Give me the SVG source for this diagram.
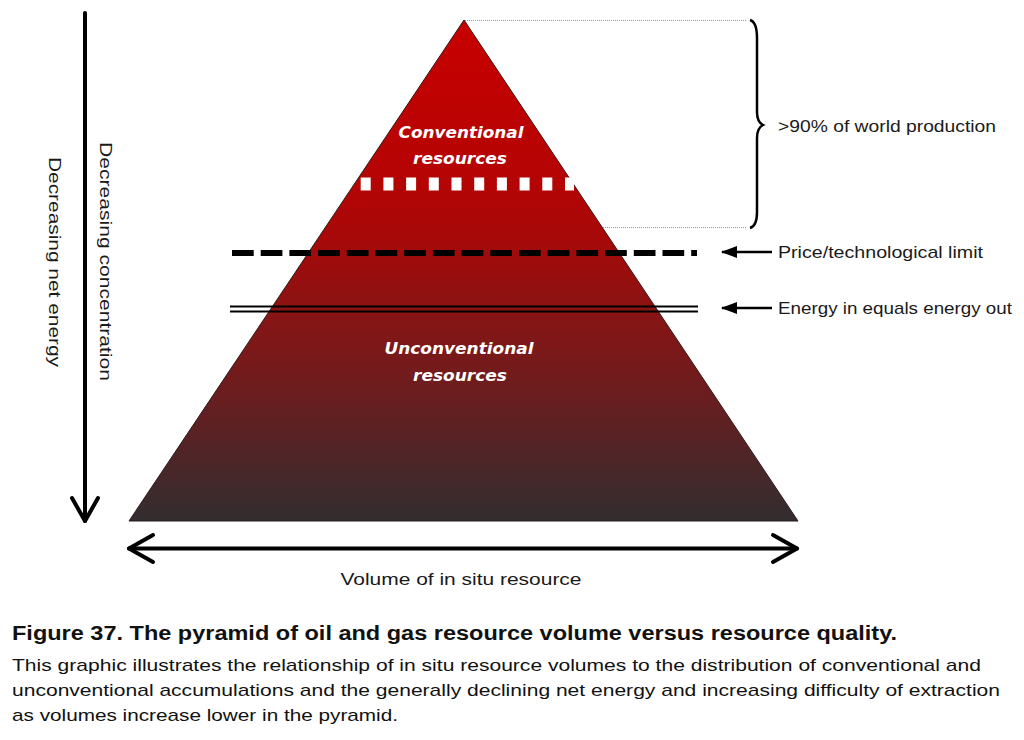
<svg xmlns="http://www.w3.org/2000/svg" width="1024" height="740" viewBox="0 0 1024 740">
<defs>
<style>
.lbl{font-family:"Liberation Sans",Arial,sans-serif;font-size:17px;fill:#1a1a1a}
.inner{font-family:"DejaVu Sans",Verdana,sans-serif;font-weight:bold;font-style:italic;font-size:16px;fill:#ffffff}
.cap{font-family:"Liberation Sans",Arial,sans-serif;fill:#111111}
.axis{stroke:#000;stroke-width:4;fill:none;stroke-linecap:round;stroke-linejoin:round}
.dot{stroke:#9a9a9a;stroke-width:1;stroke-dasharray:1 1;fill:none}
</style>
<linearGradient id="pg" x1="0" y1="20" x2="0" y2="521" gradientUnits="userSpaceOnUse">
<stop offset="0" stop-color="#c80000"/>
<stop offset="0.33" stop-color="#b40404"/>
<stop offset="0.44" stop-color="#a60909"/>
<stop offset="0.6" stop-color="#861515"/>
<stop offset="0.76" stop-color="#681e20"/>
<stop offset="1" stop-color="#322d2f"/>
</linearGradient>
<marker id="ah" viewBox="0 0 16 13" refX="15" refY="6.5" markerWidth="16" markerHeight="13" markerUnits="userSpaceOnUse" orient="auto">
<path d="M16,6.5 L0,0.5 L0,12.5 Z" fill="#000"/>
</marker>
</defs>
<rect width="1024" height="740" fill="#ffffff"/>

<g id="pyramid">
<polygon points="464,20 129,521 798,521" fill="url(#pg)" stroke="#2a1a1a" stroke-width="1"/>
</g>

<g id="conventional-label">
<text class="inner" x="461" y="138" text-anchor="middle" textLength="125" lengthAdjust="spacingAndGlyphs">Conventional</text>
<text class="inner" x="460" y="164" text-anchor="middle" textLength="94" lengthAdjust="spacingAndGlyphs">resources</text>
</g>
<g id="unconventional-label">
<text class="inner" x="459" y="354" text-anchor="middle" textLength="149" lengthAdjust="spacingAndGlyphs">Unconventional</text>
<text class="inner" x="460" y="381" text-anchor="middle" textLength="94" lengthAdjust="spacingAndGlyphs">resources</text>
</g>

<g id="conventional-boundary">
<line x1="355" y1="184" x2="574" y2="184" stroke="#ffffff" stroke-width="13" stroke-dasharray="10 12.7" stroke-dashoffset="17"/>
</g>

<g id="price-limit">
<line x1="232" y1="253" x2="697" y2="253" stroke="#000" stroke-width="6" stroke-dasharray="21.7 7"/>
</g>

<g id="energy-limit">
<line x1="230" y1="306.5" x2="698" y2="306.5" stroke="#000" stroke-width="2"/>
<line x1="230" y1="311.5" x2="698" y2="311.5" stroke="#000" stroke-width="2"/>
</g>

<g id="production-bracket">
<line class="dot" x1="465" y1="20.5" x2="746" y2="20.5"/>
<line class="dot" x1="603" y1="227.5" x2="746" y2="227.5"/>
<path d="M750,20 Q757,22 757,38 L757,112 Q757,122 763,125 Q757,128 757,138 L757,212 Q757,226 750,228" fill="none" stroke="#000" stroke-width="2.5"/>
<text class="lbl" x="778" y="132" textLength="218" lengthAdjust="spacingAndGlyphs">&gt;90% of world production</text>
</g>

<g id="connectors">
<line x1="772" y1="252" x2="722" y2="252" stroke="#000" stroke-width="2.5" marker-end="url(#ah)"/>
<line x1="772" y1="308" x2="722" y2="308" stroke="#000" stroke-width="2.5" marker-end="url(#ah)"/>
</g>

<g id="price-label">
<text class="lbl" x="778" y="258" textLength="205" lengthAdjust="spacingAndGlyphs">Price/technological limit</text>
</g>
<g id="energy-label">
<text class="lbl" x="778" y="314" textLength="234" lengthAdjust="spacingAndGlyphs">Energy in equals energy out</text>
</g>

<g id="vertical-axis">
<line class="axis" x1="85" y1="13" x2="85" y2="521"/>
<polyline class="axis" points="72,498 85,521 98,498"/>
<text class="lbl" transform="translate(100,142) rotate(90)" textLength="239" lengthAdjust="spacingAndGlyphs">Decreasing concentration</text>
<text class="lbl" transform="translate(49,157) rotate(90)" textLength="210" lengthAdjust="spacingAndGlyphs">Decreasing net energy</text>
</g>

<g id="horizontal-axis">
<line class="axis" x1="129" y1="548.5" x2="797" y2="548.5"/>
<polyline class="axis" points="153,535 129,548.5 153,562"/>
<polyline class="axis" points="773,535 797,548.5 773,562"/>
<text class="lbl" x="461" y="585" text-anchor="middle" textLength="241" lengthAdjust="spacingAndGlyphs">Volume of in situ resource</text>
</g>

<g id="caption">
<text class="cap" x="12" y="640" font-size="20" font-weight="bold" textLength="885" lengthAdjust="spacingAndGlyphs">Figure 37. The pyramid of oil and gas resource volume versus resource quality.</text>
<text class="cap" x="12" y="671" font-size="17" textLength="969" lengthAdjust="spacingAndGlyphs">This graphic illustrates the relationship of in situ resource volumes to the distribution of conventional and</text>
<text class="cap" x="12" y="696" font-size="17" textLength="988" lengthAdjust="spacingAndGlyphs">unconventional accumulations and the generally declining net energy and increasing difficulty of extraction</text>
<text class="cap" x="12" y="721" font-size="17" textLength="386" lengthAdjust="spacingAndGlyphs">as volumes increase lower in the pyramid.</text>
</g>
</svg>
